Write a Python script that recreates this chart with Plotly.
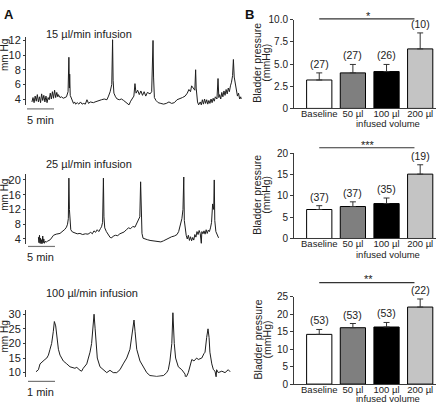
import plotly.graph_objects as go

W, H = 440, 410
def fx(px): return px / W
def fy(py): return 1 - py / H

FONT = "Arial, Liberation Sans, Helvetica, sans-serif"
TRACE_COLOR = "#1e1e1e"
AXIS_COLOR = "#3a3a3a"
TEXT_COLOR = "#222222"

# ---------------- Panel A data (time in min, pressure in mm Hg) ----------------
trace1_t = [1.1, 1.3, 1.5, 1.7, 1.9, 2.1, 2.3, 2.5, 2.7, 2.9, 3.1, 3.3, 3.5, 3.7, 3.9, 4.1, 4.3, 4.5, 4.7, 4.9,
            5.1, 5.3, 5.5, 5.7, 5.9, 6.0, 6.3, 6.6, 6.9, 7.2, 7.5, 7.8, 7.95, 8.05, 8.1, 8.2, 8.5, 8.8, 9.0, 9.2,
            9.5, 9.8, 10.1, 10.4, 10.7, 11.0, 11.3, 11.6, 11.9, 12.2, 12.5, 12.8, 13.1, 13.5, 14.0, 14.5, 15.0, 15.3, 15.6, 15.9,
            16.05, 16.15, 16.3, 16.6, 16.9, 17.3, 17.7, 18.1, 18.5, 18.9, 19.1, 19.4, 19.7, 20.0, 20.2, 20.4, 20.7, 21.0, 21.3, 21.6,
            21.9, 22.2, 22.5, 23.0, 23.3, 23.55, 23.65, 23.8, 24.1, 24.5, 25.0, 25.5, 26.0, 26.5, 27.0, 27.5, 28.0, 28.5, 29.0, 29.5,
            29.9, 30.2, 30.5, 30.7, 31.0, 31.3, 31.45, 31.55, 31.8, 32.0, 32.3, 32.5, 32.7, 32.9, 33.1, 33.3, 33.5, 33.7, 33.9, 34.1,
            34.3, 34.5, 34.7, 34.9, 35.1, 35.4, 35.6, 35.75, 35.9, 36.1, 36.3, 36.5, 36.7, 36.9, 37.1, 37.3, 37.5, 37.7, 37.9, 38.1,
            38.3, 38.45, 38.6, 38.8, 39.0, 39.2, 39.4, 39.6, 39.8, 39.9]
trace1_p = [3.6, 4.2, 3.5, 4.4, 3.7, 4.6, 3.6, 4.3, 3.5, 4.7, 3.8, 4.5, 3.6, 4.4, 3.5, 4.2, 3.9, 4.8, 4.0, 5.0,
            4.1, 5.2, 4.2, 4.9, 4.3, 4.6, 4.2, 4.3, 4.1, 4.2, 4.3, 5.0, 9.7, 5.5, 7.4, 4.5, 3.8, 3.4, 3.6, 3.3,
            3.5, 3.3, 3.6, 3.3, 3.4, 3.3, 3.9, 3.4, 3.6, 3.5, 3.5, 3.6, 3.7, 3.8, 3.9, 4.0, 3.9, 4.4, 5.0, 6.0,
            12.1, 6.5, 4.8, 4.3, 4.0, 3.9, 4.0, 3.8, 3.6, 3.3, 3.2, 3.7, 4.0, 4.4, 6.1, 4.8, 5.2, 4.6, 5.1, 4.5,
            5.0, 4.4, 4.9, 4.7, 5.0, 12.0, 7.0, 4.2, 3.8, 3.5, 3.4, 3.3, 3.4, 3.6, 3.4, 3.5, 3.9, 4.0, 4.2, 4.4,
            4.8, 5.3, 5.0, 5.8, 5.5, 5.2, 8.0, 5.5, 3.6, 3.2, 3.6, 3.2, 3.9, 3.3, 4.0, 3.4, 3.9, 3.3, 3.8, 3.4,
            4.0, 3.5, 4.1, 3.7, 4.3, 4.0, 6.8, 4.2, 4.6, 4.0, 4.9, 4.3, 5.1, 4.5, 5.3, 4.7, 5.5, 5.0, 5.8, 6.3,
            7.2, 9.4, 7.0, 6.0, 5.0, 4.4, 4.8, 4.0, 4.3, 4.0]

trace2_t = [2.3, 2.4, 2.5, 2.6, 2.7, 2.8, 2.9, 3.0, 3.1, 3.2, 3.3, 3.4, 3.5, 3.8, 4.0, 4.5, 5.1, 5.6, 6.3, 6.9,
            7.2, 7.5, 7.7, 7.85, 7.95, 8.05, 8.15, 8.3, 8.6, 9.0, 9.5, 10.0, 10.5, 11.0, 11.5, 12.0, 12.3, 12.6, 12.9, 13.2,
            13.5, 13.8, 14.0, 14.2, 14.35, 14.45, 14.6, 14.9, 15.3, 15.6, 15.9, 16.2, 16.6, 17.0, 17.4, 17.8, 18.2, 18.6, 19.0, 19.4,
            19.8, 20.2, 20.5, 20.8, 21.1, 21.25, 21.35, 21.5, 21.7, 22.0, 22.5, 23.0, 23.5, 24.0, 24.5, 25.0, 25.5, 26.0, 26.5, 27.0,
            27.5, 28.0, 28.3, 28.6, 28.9, 29.1, 29.25, 29.35, 29.5, 29.7, 29.9, 30.1, 30.3, 30.5, 30.7, 30.9, 31.1, 31.3, 31.5, 31.7,
            31.9, 32.1, 32.3, 32.5, 32.6, 32.8, 33.0, 33.2, 33.4, 33.6, 33.8, 34.0, 34.2, 34.4, 34.6, 34.8, 34.9, 35.0, 35.2, 35.5,
            35.7]
trace2_p = [4.5, 3.0, 5.0, 2.8, 4.2, 2.7, 3.8, 2.7, 4.8, 3.0, 4.0, 2.8, 3.3, 3.2, 3.4, 3.8, 5.0, 5.3, 5.5, 6.2,
            6.6, 7.2, 8.0, 9.5, 20.5, 12.0, 8.0, 6.5, 5.9, 5.6, 5.4, 5.5, 5.2, 5.4, 5.3, 5.8, 5.4, 6.2, 5.8, 6.5,
            6.0, 6.8, 7.3, 8.5, 20.5, 10.0, 7.0, 6.0, 5.0, 4.4, 4.3, 4.8, 5.0, 4.9, 5.4, 5.6, 5.9, 6.5, 7.0, 6.8,
            7.4, 7.2, 8.0, 9.0, 10.0, 19.5, 8.0, 5.5, 4.2, 4.0, 3.8, 3.6, 3.5, 3.4, 3.3, 3.2, 3.5, 3.9, 4.3, 4.6,
            4.8, 5.2, 6.0, 7.5, 9.5, 12.0, 20.8, 9.0, 6.5, 5.0, 4.0, 5.0, 3.6, 4.6, 3.5, 4.4, 3.7, 5.2, 4.5, 6.0,
            5.2, 6.3, 5.5, 2.8, 6.0, 5.4, 6.2, 5.3, 6.5, 5.5, 6.4, 6.0, 7.0, 8.5, 13.5, 12.0, 20.0, 9.0, 6.0, 5.0,
            4.3]

trace3_t = [0.37, 0.46, 0.52, 0.62, 0.70, 0.77, 0.83, 0.89, 0.95, 1.01, 1.05, 1.10, 1.14, 1.20, 1.26, 1.38, 1.51, 1.63, 1.81, 1.88,
            2.00, 2.06, 2.12, 2.25, 2.31, 2.37, 2.43, 2.47, 2.52, 2.56, 2.59, 2.64, 2.74, 2.86, 2.99, 3.11, 3.23, 3.36, 3.48, 3.60,
            3.73, 3.85, 3.95, 4.00, 4.04, 4.10, 4.22, 4.35, 4.47, 4.59, 4.84, 5.09, 5.21, 5.27, 5.33, 5.40, 5.44, 5.49, 5.54, 5.64,
            5.77, 5.89, 5.91, 6.01, 6.07, 6.14, 6.22, 6.32, 6.38, 6.51, 6.59, 6.63, 6.69, 6.74, 6.78, 6.81, 6.88, 6.94, 7.00, 7.04,
            7.06, 7.12, 7.25, 7.37, 7.49, 7.56]
trace3_p = [10.3, 11.0, 13.0, 14.0, 14.5, 15.0, 16.0, 18.0, 20.0, 24.0, 27.5, 26.0, 22.0, 18.0, 16.0, 14.0, 13.0, 12.0, 11.5, 11.8,
            10.8, 10.5, 11.5, 13.0, 15.0, 17.0, 20.0, 25.0, 30.0, 25.0, 20.0, 15.0, 12.0, 11.0, 10.0, 10.8, 10.0, 10.0, 11.0, 13.0,
            15.0, 18.0, 25.0, 28.0, 24.0, 18.0, 14.0, 12.0, 10.0, 9.0, 8.7, 9.0, 10.0, 11.0, 14.0, 20.0, 30.5, 20.0, 15.0, 12.0,
            11.0, 9.5, 8.0, 10.0, 12.0, 14.5, 14.0, 15.0, 14.5, 15.0, 16.5, 17.0, 22.0, 25.0, 22.0, 17.0, 13.0, 11.0, 10.5, 8.5,
            11.0, 10.0, 10.5, 10.0, 11.0, 10.3]

trace_titles = ["15 µl/min infusion", "25 µl/min infusion", "100 µl/min infusion"]
trace_ticks = [[4, 6, 8, 10, 12], [4, 8, 12, 16, 20], [10, 15, 20, 25, 30]]
scale_lengths = [5, 5, 1]
scale_labels = ["5 min", "5 min", "1 min"]

# ---------------- Panel B data ----------------
categories = ["Baseline", "50 µl", "100 µl", "200 µl"]
b1_mean = [3.2, 4.0, 4.15, 6.7]
b1_sem = [0.8, 0.95, 0.8, 1.8]
b1_n = ["(27)", "(27)", "(26)", "(10)"]
b2_mean = [6.8, 7.5, 8.2, 15.1]
b2_sem = [0.9, 1.1, 1.3, 2.2]
b2_n = ["(37)", "(37)", "(35)", "(19)"]
b3_mean = [14.2, 16.1, 16.3, 22.0]
b3_sem = [1.4, 1.2, 1.3, 2.3]
b3_n = ["(53)", "(53)", "(53)", "(22)"]
b_ticks = [[0, 2.5, 5.0, 7.5, 10.0], [0, 5, 10, 15, 20], [0, 5, 10, 15, 20, 25]]
b_ticktext = [["0", "2.5", "5.0", "7.5", "10.0"], ["0", "5", "10", "15", "20"], ["0", "5", "10", "15", "20", "25"]]
b_sig = ["*", "***", "**"]
bar_colors = ["#ffffff", "#7f7f7f", "#000000", "#c4c4c4"]

fig = go.Figure()
layout = dict(width=W, height=H, margin=dict(l=0, r=0, t=0, b=0), autosize=False,
              paper_bgcolor="white", plot_bgcolor="rgba(0,0,0,0)", showlegend=False,
              font=dict(family=FONT, size=11, color=TEXT_COLOR))
annotations = []
shapes = []

# Panel A geometry (pixels)
A_x = (26, 245)
A_geo = [
    dict(top=31.5, bottom=102.0, yr=[3.18, 12.53], xr=[0, 40.6], bar_x0=0.19, bar_y=106, lab_y=117.5, title_y=29, unit_y=51),
    dict(top=173.5, bottom=245.0, yr=[2.68, 21.5], xr=[0, 40.6], bar_x0=0.37, bar_y=247.7, lab_y=259, title_y=162.3, unit_y=195),
    dict(top=313.0, bottom=382.0, yr=[8.57, 31.5], xr=[0, 8.11], bar_x0=0.074, bar_y=386.7, lab_y=398, title_y=296, unit_y=341),
]
traces_t = [trace1_t, trace2_t, trace3_t]
traces_p = [trace1_p, trace2_p, trace3_p]

for i in range(3):
    g = A_geo[i]
    k = "" if i == 0 else str(i + 1)
    fig.add_trace(go.Scatter(x=traces_t[i], y=traces_p[i], mode="lines",
                             line=dict(color=TRACE_COLOR, width=1), xaxis="x" + k, yaxis="y" + k,
                             hoverinfo="skip"))
    layout["xaxis" + k] = dict(domain=[fx(A_x[0]), fx(A_x[1])], range=g["xr"], visible=False,
                               anchor="y" + k, fixedrange=True)
    layout["yaxis" + k] = dict(domain=[fy(g["bottom"]), fy(g["top"])], range=g["yr"], anchor="x" + k,
                               showline=True, linecolor=AXIS_COLOR, linewidth=1, ticks="outside",
                               ticklen=2, tickwidth=1, tickcolor=AXIS_COLOR, tickvals=trace_ticks[i],
                               tickfont=dict(size=11, color=TEXT_COLOR), showgrid=False, zeroline=False,
                               fixedrange=True)
    # scale bar
    shapes.append(dict(type="line", xref="x" + k, yref="paper", x0=g["bar_x0"], x1=g["bar_x0"] + scale_lengths[i],
                       y0=fy(g["bar_y"]), y1=fy(g["bar_y"]), line=dict(color="#777777", width=1.2)))
    annotations.append(dict(text=scale_labels[i], xref="paper", yref="paper", x=fx(40.5), y=fy(g["lab_y"]),
                            showarrow=False, xanchor="center", yanchor="middle", font=dict(size=11)))
    annotations.append(dict(text=trace_titles[i], xref="paper", yref="paper", x=fx(44), y=fy(g["title_y"]),
                            showarrow=False, xanchor="left", yanchor="middle", font=dict(size=11)))
    annotations.append(dict(text="mm Hg", xref="paper", yref="paper", x=fx(4.5), y=fy(g["unit_y"]),
                            showarrow=False, xanchor="center", yanchor="middle", textangle=-90,
                            font=dict(size=10)))

# Panel B geometry
B_x = (294, 436)
B_geo = [
    dict(top=14.0, bottom=105.5, yr=[0, 10], sig_y=13.3, star_y=10.5, lab_y=121, ylab_y=59),
    dict(top=151.7, bottom=239.5, yr=[0, 20], sig_y=146, star_y=143, lab_y=256, ylab_y=195),
    dict(top=299.3, bottom=389.5, yr=[0, 25], sig_y=285, star_y=281.5, lab_y=404.5, ylab_y=344),
]
b_means = [b1_mean, b2_mean, b3_mean]
b_sems = [b1_sem, b2_sem, b3_sem]
b_ns = [b1_n, b2_n, b3_n]

for i in range(3):
    g = B_geo[i]
    k = str(i + 4)
    xs = list(range(len(categories)))
    fig.add_trace(go.Bar(x=xs, y=b_means[i], width=0.75, xaxis="x" + k, yaxis="y" + k,
                         marker=dict(color=bar_colors, line=dict(color="#000000", width=1)),
                         error_y=dict(type="data", symmetric=False, array=b_sems[i],
                                      arrayminus=[0] * len(xs), color="#333333", thickness=1, width=3),
                         hoverinfo="skip"))
    layout["xaxis" + k] = dict(domain=[fx(B_x[0]), fx(B_x[1])], range=[-0.75, 3.47], anchor="y" + k,
                               showline=True, linecolor=AXIS_COLOR, linewidth=1, ticks="",
                               ticklabelstandoff=-4,
                               tickvals=xs, ticktext=categories, tickfont=dict(size=9.5, color=TEXT_COLOR),
                               showgrid=False, zeroline=False, fixedrange=True)
    layout["yaxis" + k] = dict(domain=[fy(g["bottom"]), fy(g["top"])], range=g["yr"], anchor="x" + k,
                               showline=True, linecolor=AXIS_COLOR, linewidth=1, ticks="outside",
                               ticklen=3, tickwidth=1, tickcolor=AXIS_COLOR, tickvals=b_ticks[i],
                               ticktext=b_ticktext[i], tickfont=dict(size=10, color=TEXT_COLOR),
                               showgrid=False, zeroline=False, fixedrange=True)
    for j in xs:
        annotations.append(dict(text=b_ns[i][j], xref="x" + k, yref="y" + k, x=j,
                                y=b_means[i][j] + b_sems[i][j], showarrow=False, xanchor="center",
                                yanchor="bottom", yshift=1, font=dict(size=10.5)))
    shapes.append(dict(type="line", xref="x" + k, yref="paper", x0=0, x1=2.83,
                       y0=fy(g["sig_y"]), y1=fy(g["sig_y"]), line=dict(color="#333333", width=1.2)))
    annotations.append(dict(text=b_sig[i], xref="x" + k, yref="paper", x=1.45, y=fy(g["star_y"]),
                            showarrow=False, xanchor="center", yanchor="middle", font=dict(size=11)))
    annotations.append(dict(text="infused volume", xref="paper", yref="paper", x=fx(388), y=fy(g["lab_y"]),
                            showarrow=False, xanchor="center", yanchor="middle", font=dict(size=9.5)))
    annotations.append(dict(text="Bladder pressure", xref="paper", yref="paper", x=fx(257.5), y=fy(g["ylab_y"]),
                            showarrow=False, xanchor="center", yanchor="middle", textangle=-90,
                            font=dict(size=10.5)))
    annotations.append(dict(text="(mmHg)", xref="paper", yref="paper", x=fx(266.5), y=fy(g["ylab_y"]),
                            showarrow=False, xanchor="center", yanchor="middle", textangle=-90,
                            font=dict(size=10.5)))

annotations.append(dict(text="<b>A</b>", xref="paper", yref="paper", x=fx(9), y=fy(9), showarrow=False,
                        xanchor="center", yanchor="middle", font=dict(size=13, color="#111111")))
annotations.append(dict(text="<b>B</b>", xref="paper", yref="paper", x=fx(249), y=fy(9), showarrow=False,
                        xanchor="center", yanchor="middle", font=dict(size=13, color="#111111")))

layout["annotations"] = annotations
layout["shapes"] = shapes
fig.update_layout(**layout)
fig.write_html("out.html", config={"displayModeBar": False, "staticPlot": True},
               post_script="document.body.style.margin='0';document.body.style.padding='0';document.body.style.overflow='hidden';")
